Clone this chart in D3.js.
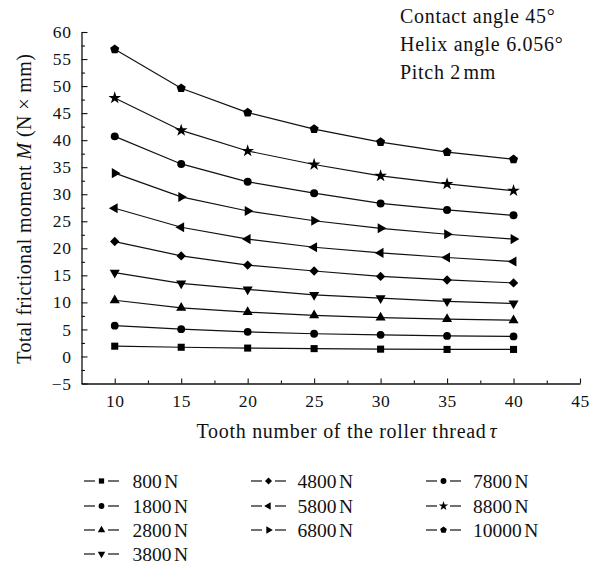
<!DOCTYPE html>
<html>
<head>
<meta charset="utf-8">
<script src="https://cdn.jsdelivr.net/npm/d3@7"></script>
<style>
  html, body { margin: 0; padding: 0; background: #fff; }
  svg { display: block; }
  text { font-family: "Liberation Serif", "Times New Roman", serif; fill: #111; }
</style>
</head>
<body>
<svg id="chart" width="592" height="571"></svg>
<script>
// ---- data ----
const teeth = [10, 15, 20, 25, 30, 35, 40];
const loads = ["800", "1800", "2800", "3800", "4800", "5800", "6800", "7800", "8800", "10000"];
const s800   = [1.9, 1.7, 1.55, 1.45, 1.35, 1.3, 1.3];
const s1800  = [5.7, 5.05, 4.55, 4.2, 4.0, 3.8, 3.7];
const s2800  = [10.4, 9.0, 8.2, 7.6, 7.2, 6.9, 6.7];
const s3800  = [15.5, 13.5, 12.4, 11.4, 10.8, 10.2, 9.8];
const s4800  = [21.25, 18.6, 16.9, 15.8, 14.8, 14.15, 13.6];
const s5800  = [27.4, 23.9, 21.7, 20.2, 19.15, 18.3, 17.55];
const s6800  = [33.9, 29.5, 26.9, 25.1, 23.7, 22.6, 21.7];
const s7800  = [40.7, 35.6, 32.3, 30.2, 28.3, 27.1, 26.1];
const s8800  = [47.8, 41.8, 38.0, 35.5, 33.4, 31.9, 30.65];
const s10000 = [56.8, 49.6, 45.1, 42.05, 39.65, 37.8, 36.45];
const seriesValues = [s800, s1800, s2800, s3800, s4800, s5800, s6800, s7800, s8800, s10000];
const xTickLabels = [10, 15, 20, 25, 30, 35, 40, 45];
const yTickLabels = [-5, 0, 5, 10, 15, 20, 25, 30, 35, 40, 45, 50, 55, 60];
const notes = [["Contact angle 45°", ""], ["Helix angle 6.056°", ""], ["Pitch 2", "mm"]];

// ---- layout ----
const svg = d3.select("#chart");
const X0 = 81.5, X1 = 580, Y0 = 383.5, Y1 = 32;
const x = d3.scaleLinear().domain([7.5, 45]).range([X0, X1]);
const y = d3.scaleLinear().domain([-5, 60]).range([Y0, Y1]);
const FONT = "Liberation Serif";
const TICK_FS = 17.5, TITLE_FS = 20, LEG_FS = 19.5, LS = 0.7;

// marker shapes
const pentagon = {
  draw(ctx, size) {
    const r = Math.sqrt(size / 2.378);
    for (let i = 0; i < 5; i++) {
      const a = -Math.PI / 2 + i * 2 * Math.PI / 5;
      const px = r * Math.cos(a), py = r * Math.sin(a);
      if (i === 0) ctx.moveTo(px, py); else ctx.lineTo(px, py);
    }
    ctx.closePath();
  }
};
const markers = [
  { type: d3.symbolSquare, size: 50, rot: 0 },
  { type: d3.symbolCircle, size: 48, rot: 0 },
  { type: d3.symbolTriangle, size: 44, rot: 0 },
  { type: d3.symbolTriangle, size: 44, rot: 180 },
  { type: d3.symbolSquare, size: 44, rot: 45 },
  { type: d3.symbolTriangle, size: 44, rot: -90 },
  { type: d3.symbolTriangle, size: 44, rot: 90 },
  { type: d3.symbolCircle, size: 50, rot: 0 },
  { type: d3.symbolStar, size: 50, rot: 0 },
  { type: pentagon, size: 54, rot: 0 }
];

// ---- axes ----
const yAxis = d3.axisLeft(y).tickValues(yTickLabels).tickSizeInner(-6).tickSizeOuter(0)
  .tickPadding(10).tickFormat(d => d < 0 ? "\u2212" + Math.abs(d) : d);
svg.append("g").attr("transform", `translate(${X0},0)`).call(yAxis);
const yMinor = d3.range(-2.5, 60, 5);
svg.append("g").attr("transform", `translate(${X0},0)`)
  .call(d3.axisLeft(y).tickValues(yMinor).tickSizeInner(-3.5).tickSizeOuter(0).tickFormat(""))
  .select(".domain").remove();

const xAxis = d3.axisBottom(x).tickValues(xTickLabels).tickSizeInner(-5).tickSizeOuter(0).tickPadding(11.5);
svg.append("g").attr("transform", `translate(0,${Y0})`).call(xAxis);
const xMinor = d3.range(12.5, 45, 5);
svg.append("g").attr("transform", `translate(0,${Y0})`)
  .call(d3.axisBottom(x).tickValues(xMinor).tickSizeInner(-3).tickSizeOuter(0).tickFormat(""))
  .select(".domain").remove();

svg.selectAll(".domain").attr("stroke", "#111").attr("stroke-width", 1.3);
svg.selectAll(".tick line").attr("stroke", "#111").attr("stroke-width", 1.1);
svg.selectAll(".tick text").style("font-family", FONT).style("font-size", TICK_FS + "px")
  .style("letter-spacing", "0.6px").attr("fill", "#111");

// ---- series ----
const line = d3.line().x((d, i) => x(teeth[i])).y(d => y(d));
seriesValues.forEach((vals, si) => {
  svg.append("path").datum(vals).attr("d", line)
    .attr("fill", "none").attr("stroke", "#111").attr("stroke-width", 1.2);
  const m = markers[si];
  svg.append("g").selectAll("path").data(vals).join("path")
    .attr("d", d3.symbol().type(m.type).size(m.size))
    .attr("transform", (d, i) => `translate(${x(teeth[i])},${y(d)}) rotate(${m.rot})`)
    .attr("fill", "#000");
});

// ---- annotations ----
notes.forEach((n, i) => {
  const t = svg.append("text").attr("x", 400).attr("y", 23 + i * 28)
    .style("font-size", TITLE_FS + "px").style("letter-spacing", LS + "px");
  t.append("tspan").text(n[0]);
  if (n[1]) t.append("tspan").attr("dx", 2.5).text(n[1]);
});

// ---- axis titles ----
const yt = svg.append("text")
  .attr("transform", `translate(31,${(Y0 + Y1) / 2 + 1}) rotate(-90)`)
  .attr("text-anchor", "middle").style("font-size", TITLE_FS + "px").style("letter-spacing", "0.4px");
yt.append("tspan").text("Total frictional moment ");
yt.append("tspan").attr("font-style", "italic").text("M");
yt.append("tspan").text(" (N × mm)");

const xt = svg.append("text")
  .attr("x", 347).attr("y", 438)
  .attr("text-anchor", "middle").style("font-size", TITLE_FS + "px").style("letter-spacing", LS + "px");
xt.append("tspan").text("Tooth number of the roller thread");
xt.append("tspan").attr("dx", 3).attr("font-style", "italic").text("τ");

// ---- legend ----
const colX = [84, 251, 426];
const textX = [132.5, 297.5, 473];
const rowY = [481, 506, 530, 554];
const legendPos = [[0,0],[0,1],[0,2],[0,3],[1,0],[1,1],[1,2],[2,0],[2,1],[2,2]];
const lg = svg.append("g");
loads.forEach((ld, si) => {
  const [c, r] = legendPos[si];
  const lx = colX[c], ly = rowY[r];
  const g = lg.append("g").attr("transform", `translate(${lx},${ly})`);
  g.append("line").attr("x1", 0).attr("x2", 11).attr("y1", 0).attr("y2", 0).attr("stroke", "#111").attr("stroke-width", 1.2);
  g.append("line").attr("x1", 24).attr("x2", 35).attr("y1", 0).attr("y2", 0).attr("stroke", "#111").attr("stroke-width", 1.2);
  const m = markers[si];
  g.append("path").attr("d", d3.symbol().type(m.type).size(m.size * 0.55))
    .attr("transform", `translate(17.5,0) rotate(${m.rot})`).attr("fill", "#000");
  const t = lg.append("text").attr("x", textX[c]).attr("y", ly).attr("dy", "0.35em")
    .style("font-size", LEG_FS + "px");
  t.append("tspan").text(ld);
  t.append("tspan").attr("dx", 2.5).text("N");
});
</script>
</body>
</html>
